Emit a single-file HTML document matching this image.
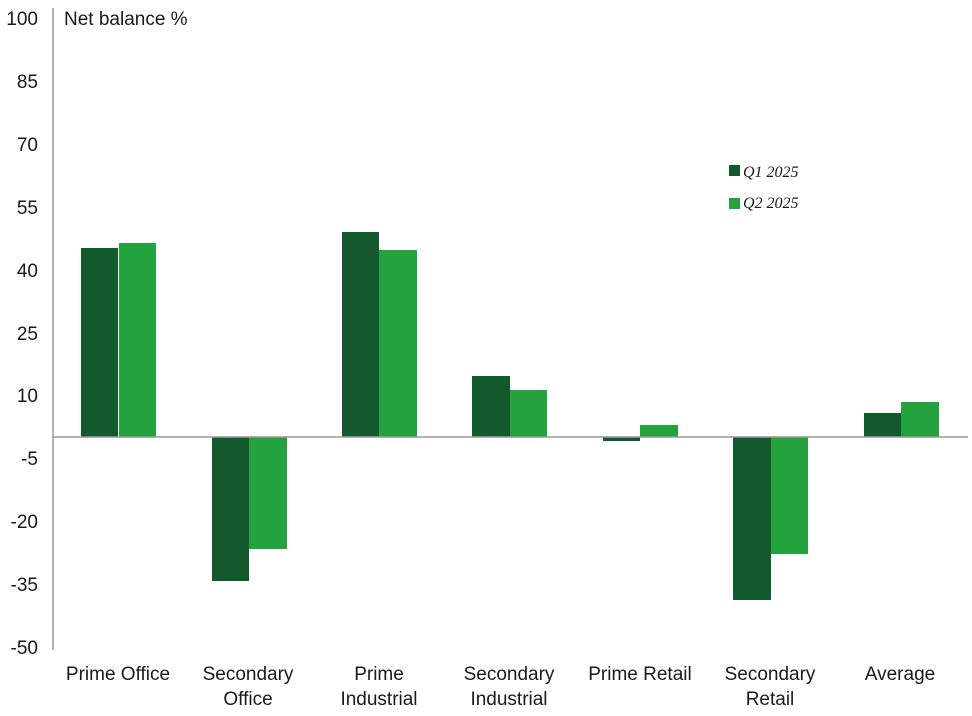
<!DOCTYPE html>
<html><head><style>body{margin:0;background:#fff}svg{display:block}text{font-family:"Liberation Sans",sans-serif;fill:#1a1a1a}</style></head>
<body>
<svg width="972" height="716" viewBox="0 0 972 716">
<g font-size="19" text-anchor="end">
<text x="38" y="25">100</text><text x="38" y="88">85</text><text x="38" y="151">70</text><text x="38" y="214">55</text><text x="38" y="277">40</text><text x="38" y="340">25</text><text x="38" y="402">10</text><text x="38" y="465">-5</text><text x="38" y="528">-20</text><text x="38" y="591">-35</text><text x="38" y="654">-50</text>
</g>
<text x="64" y="25" font-size="19">Net balance %</text>
<g fill="#14582e">
<rect x="81" y="248" width="37" height="189"/><rect x="212" y="437" width="37" height="144"/><rect x="342" y="232" width="37" height="205"/><rect x="472" y="376" width="38" height="61"/><rect x="603" y="437" width="37" height="4"/><rect x="733" y="437" width="38" height="163"/><rect x="864" y="413" width="37" height="24"/>
</g>
<g fill="#23a23e">
<rect x="119" y="243" width="37" height="194"/><rect x="249" y="437" width="38" height="112"/><rect x="379" y="250" width="38" height="187"/><rect x="510" y="390" width="37" height="47"/><rect x="640" y="425" width="38" height="12"/><rect x="771" y="437" width="37" height="117"/><rect x="901" y="402" width="38" height="35"/>
</g>
<line x1="53" y1="8" x2="53" y2="650" stroke="#999" stroke-width="1.5"/>
<line x1="53" y1="437" x2="968" y2="437" stroke="#999" stroke-width="1.5"/>
<rect x="729" y="165" width="11" height="11" fill="#14582e"/>
<rect x="729" y="198" width="11" height="11" fill="#23a23e"/>
<g font-style="italic" font-size="16">
<text x="743" y="177" style="font-family:'Liberation Serif',serif">Q1 2025</text>
<text x="743" y="208" style="font-family:'Liberation Serif',serif">Q2 2025</text>
</g>
<g font-size="19" text-anchor="middle">
<text x="118" y="680">Prime Office</text>
<text x="248" y="680">Secondary</text><text x="248" y="705">Office</text>
<text x="379" y="680">Prime</text><text x="379" y="705">Industrial</text>
<text x="509" y="680">Secondary</text><text x="509" y="705">Industrial</text>
<text x="640" y="680">Prime Retail</text>
<text x="770" y="680">Secondary</text><text x="770" y="705">Retail</text>
<text x="900" y="680">Average</text>
</g>
</svg>
</body></html>
